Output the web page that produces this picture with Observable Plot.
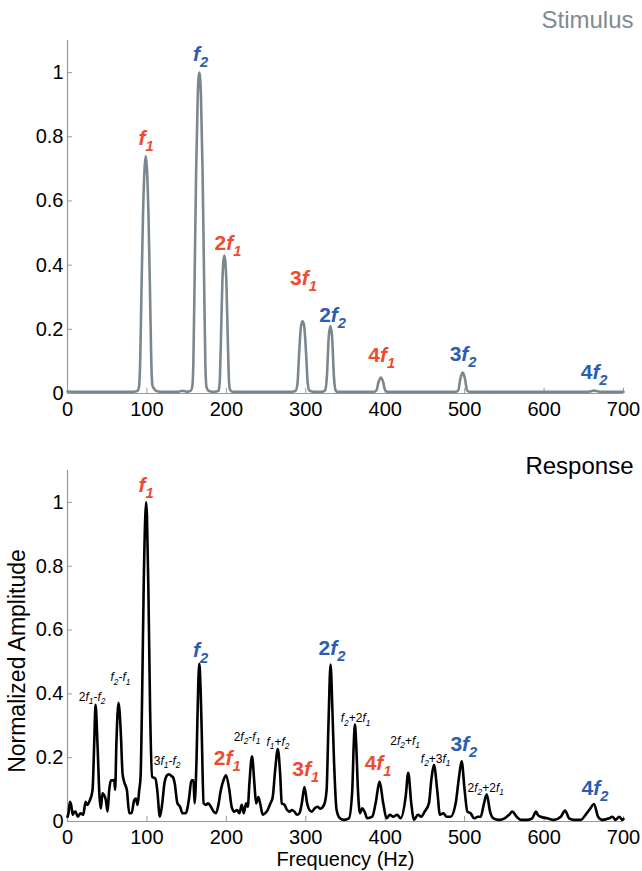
<!DOCTYPE html>
<html><head><meta charset="utf-8">
<script src="https://cdn.jsdelivr.net/npm/d3@7"></script>
<script src="https://cdn.jsdelivr.net/npm/@observablehq/plot@0.6"></script>
<style>html,body{margin:0;padding:0;background:#fff;} svg{display:block;}</style>
</head><body><div id="chart"></div>
<script>
// ---------- DATA ----------
const xTicks = [0, 100, 200, 300, 400, 500, 600, 700];
const yTicks = [0, 0.2, 0.4, 0.6, 0.8, 1];

// Stimulus spectrum (Hz, normalized amplitude)
const stimFreq = [0,20,50,80,88,90,91.5,93,95,97,98.5,100,102,104,105.5,107,109,112,120,140,143,147,150,155,157,158.5,160,162,164,166,168,170,172,173.5,175,178,185,190,191.5,193,195,197.5,200,202,203.5,205,208,280,287,289.5,291.5,294,296,298,300.5,302.5,305,310,320,324.5,326.5,329,331,333,335.5,337.5,340,385,389,391.5,394.5,397.5,400,404,488,492,494.5,497.5,500.5,503,507,655,659,663,667,671,700];
const stimAmp  = [0.006,0.005,0.005,0.005,0.008,0.02,0.1,0.3,0.55,0.7,0.74,0.7,0.55,0.3,0.1,0.025,0.015,0.008,0.005,0.005,0.008,0.008,0.005,0.008,0.02,0.1,0.35,0.7,0.93,1.0,0.93,0.7,0.35,0.1,0.02,0.008,0.005,0.008,0.03,0.15,0.35,0.43,0.35,0.15,0.03,0.01,0.005,0.005,0.008,0.03,0.12,0.21,0.225,0.21,0.12,0.03,0.008,0.005,0.005,0.01,0.05,0.18,0.21,0.18,0.05,0.01,0.005,0.005,0.01,0.035,0.05,0.035,0.01,0.005,0.005,0.01,0.045,0.065,0.045,0.01,0.005,0.005,0.007,0.009,0.007,0.005,0.005];

// Response spectrum (Hz, normalized amplitude)
const respFreq = [0,1.5,3,4.6,6.7,8.5,10,13,16.5,19.8,22.8,24.9,27.9,31.5,33.6,35.3,37.8,40.3,42,44,46,48.3,50.4,52.5,54.6,56.7,58.8,60,61.5,64.2,67.2,69.3,71.4,74.8,77.7,80.6,84,86.1,88.2,90.3,92,94,96,98,99,100,102,104,106.6,110.8,113,116.3,119.3,122,125.4,128,131,133,135,138.4,141.8,144.7,148.9,153,156,158.6,160,162.5,164.5,166,167.5,168.8,171.4,174.3,177,180.6,184,187,190,193,196.5,199.6,203.8,206.7,210,213.5,216.4,219.4,221.9,224.8,227,229,232.3,235.3,237.4,240.3,242.9,245.8,248.8,252,255.5,258.4,261.4,264.8,267.7,269.8,273.2,276.5,279.5,282.4,285.7,289,292,295,298.3,301.7,304.6,307.6,311,315,318,323,326.2,328.5,331.2,333.5,335.4,338.8,343,348,354.3,358.5,360.5,361.9,363.5,365.7,368.2,371.1,374,377.4,383.7,387.9,392.9,397.5,401.7,405.9,410,415,419.4,425.7,429,432.8,436,441.2,445.4,449.6,455,458,461.3,465.5,468.9,473.2,477.3,482.4,488.7,492.9,496.2,500,503.4,507.6,511.8,516.8,520.2,524.4,527.8,532,536.2,543.4,550.4,555.9,560,565.5,570.5,579,585,590,592,595.7,604,612.5,621,626.5,631.5,637.8,646,653.7,658,662.9,668,673.5,682,686,690,694.6,698.6,700];
const respAmp  = [0.015,0.03,0.062,0.052,0.021,0.03,0.031,0.015,0.026,0.021,0.062,0.052,0.065,0.098,0.242,0.366,0.24,0.077,0.041,0.088,0.083,0.067,0.031,0.098,0.129,0.129,0.13,0.1,0.24,0.372,0.273,0.15,0.124,0.098,0.026,0.026,0.067,0.072,0.052,0.098,0.14,0.4,0.75,0.96,1.0,0.96,0.7,0.35,0.14,0.134,0.098,0.015,0.057,0.119,0.145,0.148,0.142,0.138,0.119,0.057,0.046,0.026,0.026,0.072,0.129,0.129,0.057,0.2,0.42,0.494,0.42,0.3,0.057,0.052,0.057,0.046,0.031,0.026,0.052,0.098,0.13,0.145,0.098,0.046,0.031,0.036,0.026,0.052,0.026,0.057,0.046,0.119,0.204,0.119,0.057,0.077,0.052,0.021,0.026,0.036,0.057,0.077,0.16,0.227,0.15,0.057,0.052,0.036,0.031,0.036,0.031,0.021,0.026,0.057,0.108,0.057,0.036,0.031,0.041,0.046,0.04,0.052,0.098,0.3,0.492,0.35,0.2,0.036,0.01,0.005,0.01,0.098,0.25,0.304,0.24,0.098,0.026,0.041,0.031,0.01,0.015,0.057,0.125,0.057,0.01,0.021,0.015,0.021,0.01,0.077,0.153,0.057,0.005,0.021,0.015,0.031,0.057,0.129,0.178,0.098,0.021,0.026,0.015,0.015,0.057,0.139,0.189,0.098,0.031,0.026,0.01,0.015,0.015,0.057,0.085,0.031,0.01,0.005,0.01,0.021,0.031,0.015,0.005,0.005,0.01,0.031,0.021,0.015,0.01,0.005,0.015,0.034,0.01,0.005,0.005,0.026,0.04,0.055,0.015,0.005,0.01,0.015,0.005,0.015,0.005,0.008];

// Peak labels: top (stimulus)
const topLabelText  = ["f1","f2","2f1","3f1","2f2","4f1","3f2","4f2"];
const topLabelFreq  = [99, 167.5, 202, 297, 333.7, 395.5, 498, 663];
const topLabelAmp   = [0.794, 1.056, 0.468, 0.358, 0.243, 0.118, 0.121, 0.066];
const topLabelGroup = ["f1","f2","f1","f1","f2","f1","f2","f2"];

// Peak labels: bottom (response), harmonics
const botLabelText  = ["f1","f2","2f1","3f1","2f2","4f1","3f2","4f2"];
const botLabelFreq  = [99, 167.5, 201, 300, 333, 391, 499, 664];
const botLabelAmp   = [1.053, 0.537, 0.198, 0.163, 0.542, 0.183, 0.242, 0.104];
const botLabelGroup = ["f1","f2","f1","f1","f2","f1","f2","f2"];

// Peak labels: bottom (response), intermodulation products
const imText = ["2f1-f2","f2-f1","3f1-f2","2f2-f1","f1+f2","f2+2f1","2f2+f1","f2+3f1","2f2+2f1"];
const imFreq = [31, 66.7, 125.5, 226, 265, 362.7, 425, 463.5, 526.5];
const imAmp  = [0.39, 0.451, 0.19, 0.265, 0.25, 0.323, 0.253, 0.196, 0.105];

// ---------- STYLE ----------
const RED = "#ef4b2f", BLUE = "#2c5db0", AXIS = "#9a9a9a", STIM = "#7b878e";
const groupColor = {f1: RED, f2: BLUE};
const FONT = "'Liberation Sans', Arial, Helvetica, sans-serif";

const stim = stimFreq.map((f, i) => ({f, a: stimAmp[i]}));
const resp = respFreq.map((f, i) => ({f, a: respAmp[i]}));
const topLabels = topLabelText.map((t, i) => ({t, f: topLabelFreq[i], a: topLabelAmp[i], c: groupColor[topLabelGroup[i]]}));
const botLabels = botLabelText.map((t, i) => ({t, f: botLabelFreq[i], a: botLabelAmp[i], c: groupColor[botLabelGroup[i]]}));
const imLabels = imText.map((t, i) => ({t, f: imFreq[i], a: imAmp[i]}));

function panel({series, stroke, bigLabels, smallLabels, title, titleColor, titleDy, height, marginTop, marginBottom, extra}) {
  return Plot.plot({
    width: 642, height, marginLeft: 67, marginRight: 19, marginTop, marginBottom,
    x: {domain: [0, 700]},
    y: {domain: [0, 1.1]},
    color: {type: "identity"},
    style: {fontFamily: FONT, fontSize: "20px", color: "black", background: "white", overflow: "visible"},
    marks: [
      Plot.ruleY([0], {stroke: AXIS, strokeWidth: 1.2}),
      Plot.ruleX([0], {stroke: AXIS, strokeWidth: 1.2}),
      Plot.ruleX(xTicks.slice(1), {x: d => d, y1: 0, y2: 0.016, stroke: AXIS}),
      Plot.ruleY(yTicks.slice(1), {y: d => d, x1: 0, x2: 6.3, stroke: AXIS}),
      Plot.axisX({ticks: xTicks, tickSize: 0, tickPadding: 8, tickFormat: d => String(d), fontSize: 20, label: null}),
      Plot.axisY({ticks: yTicks, tickSize: 0, tickPadding: 4, tickFormat: d => String(d), fontSize: 20, label: null}),
      Plot.line(series, {x: "f", y: "a", stroke, strokeWidth: 2.6, curve: "monotone-x", strokeLinejoin: "round"}),
      Plot.text(bigLabels, {x: "f", y: "a", text: "t", fill: "c", fontSize: 21, fontWeight: "bold"}),
      smallLabels ? Plot.text(smallLabels, {x: "f", y: "a", text: "t", fill: "black", fontSize: 12}) : null,
      Plot.text([title], {text: d => d, frameAnchor: "top-right", textAnchor: "end", lineAnchor: "middle", dx: 10, dy: titleDy, fill: titleColor, fontSize: 24}),
      ...(extra || [])
    ]
  });
}

const topPlot = panel({series: stim, stroke: STIM, bigLabels: topLabels, title: "Stimulus", titleColor: "#7f8a91", titleDy: -20,
  height: 430, marginTop: 40, marginBottom: 37});
const bottomPlot = panel({series: resp, stroke: "black", bigLabels: botLabels, smallLabels: imLabels, title: "Response", titleColor: "black", titleDy: -4,
  height: 441, marginTop: 40, marginBottom: 50,
  extra: [
    Plot.text(["Frequency (Hz)"], {text: d => d, frameAnchor: "bottom", textAnchor: "middle", lineAnchor: "middle", dy: 38.5, fontSize: 20, fill: "black"}),
    Plot.text(["Normalized Amplitude"], {text: d => d, frameAnchor: "left", textAnchor: "middle", lineAnchor: "middle", rotate: -90, dx: -50, dy: 15, fontSize: 23, fill: "black"})
  ]});

const root = document.getElementById("chart");
root.appendChild(topPlot);
root.appendChild(bottomPlot);

// Render labels like "2f2+f1" with italic f and subscript indices
function richify(svg) {
  d3.select(svg).selectAll("text").each(function() {
    const s = this.textContent;
    if (!/f[12]/.test(s)) return;
    const fs = parseFloat(getComputedStyle(this).fontSize) || 12;
    const shift = fs * 0.28;
    const el = d3.select(this);
    el.text(null);
    let down = false;
    const re = /f(\d)|([^f]+)/g;
    let m;
    while ((m = re.exec(s))) {
      if (m[1]) {
        el.append("tspan").attr("font-style", "italic").attr("dy", down ? -shift : null).text("f");
        el.append("tspan").attr("font-style", "italic").attr("font-size", fs * 0.7).attr("dy", shift).text(m[1]);
        down = true;
      } else {
        el.append("tspan").attr("dy", down ? -shift : null).text(m[2]);
        down = false;
      }
    }
  });
}
richify(topPlot);
richify(bottomPlot);
</script></body></html>
